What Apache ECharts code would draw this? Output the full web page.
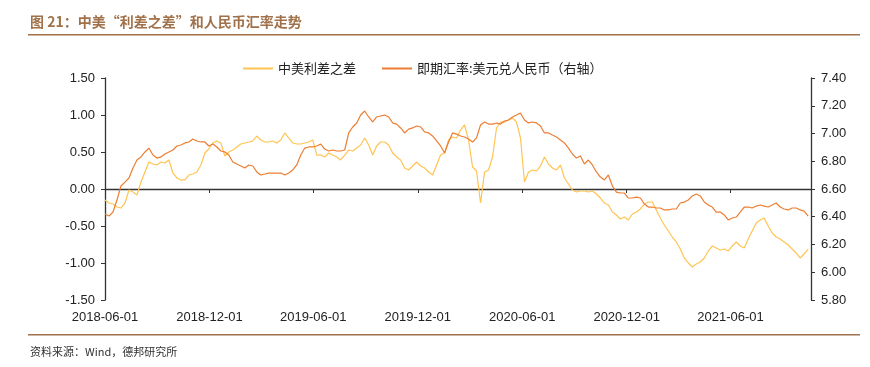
<!DOCTYPE html>
<html>
<head>
<meta charset="utf-8">
<script src="https://cdn.jsdelivr.net/npm/echarts@6/dist/echarts.min.js"></script>
<style>
  html, body { margin: 0; padding: 0; background: #fff; }
  #chart { width: 870px; height: 367px; }
</style>
</head>
<body>
<div id="chart"></div>
<script>
// weekly readings, first point 2018-06-01
const firstDay = [2018, 5, 1];
const stepDays = 7;

// 中美利差之差 (left axis)
const spreadDiff = [
  -0.149, -0.189, -0.203, -0.243, -0.257, -0.189, -0.014, -0.041, -0.081, 0.095,
  0.230, 0.365, 0.338, 0.324, 0.365, 0.351, 0.392, 0.216, 0.149, 0.122,
  0.122, 0.189, 0.203, 0.230, 0.324, 0.486, 0.541, 0.622, 0.649, 0.622,
  0.446, 0.500, 0.527, 0.568, 0.608, 0.622, 0.635, 0.649, 0.716, 0.662,
  0.635, 0.635, 0.649, 0.622, 0.662, 0.757, 0.689, 0.622, 0.608, 0.608,
  0.622, 0.635, 0.662, 0.459, 0.459, 0.432, 0.486, 0.459, 0.432, 0.392,
  0.459, 0.527, 0.514, 0.554, 0.595, 0.689, 0.595, 0.459, 0.581, 0.635,
  0.635, 0.595, 0.486, 0.432, 0.392, 0.284, 0.257, 0.311, 0.365, 0.311,
  0.284, 0.230, 0.189, 0.324, 0.459, 0.486, 0.662, 0.703, 0.689, 0.797,
  0.865, 0.662, 0.297, 0.243, -0.189, 0.230, 0.257, 0.432, 0.824, 0.905,
  0.905, 0.932, 0.959, 0.905, 0.689, 0.095, 0.230, 0.257, 0.243, 0.311,
  0.432, 0.338, 0.284, 0.257, 0.324, 0.149, 0.068, -0.014, -0.041, -0.027,
  -0.027, -0.041, -0.027, -0.068, -0.122, -0.189, -0.216, -0.311, -0.351, -0.405,
  -0.378, -0.419, -0.338, -0.311, -0.270, -0.203, -0.176, -0.176, -0.284, -0.392,
  -0.486, -0.568, -0.649, -0.716, -0.811, -0.932, -1.000, -1.054, -1.014, -0.986,
  -0.932, -0.838, -0.770, -0.797, -0.824, -0.811, -0.838, -0.770, -0.716, -0.770,
  -0.797, -0.676, -0.568, -0.459, -0.419, -0.392, -0.500, -0.595, -0.649, -0.676,
  -0.716, -0.757, -0.811, -0.865, -0.932, -0.878, -0.811
];

// 即期汇率:美元兑人民币 (right axis)
const usdCny = [
  6.420, 6.405, 6.434, 6.521, 6.622, 6.650, 6.679, 6.751, 6.809, 6.831,
  6.867, 6.895, 6.845, 6.823, 6.831, 6.852, 6.867, 6.881, 6.910, 6.917,
  6.932, 6.939, 6.960, 6.946, 6.939, 6.939, 6.910, 6.924, 6.903, 6.874,
  6.867, 6.845, 6.795, 6.780, 6.766, 6.751, 6.773, 6.766, 6.723, 6.701,
  6.708, 6.715, 6.715, 6.715, 6.715, 6.701, 6.715, 6.737, 6.773, 6.845,
  6.895, 6.903, 6.903, 6.910, 6.924, 6.888, 6.874, 6.881, 6.874, 6.874,
  6.881, 7.004, 7.047, 7.076, 7.133, 7.162, 7.119, 7.083, 7.119, 7.126,
  7.133, 7.119, 7.076, 7.068, 7.040, 7.004, 7.032, 7.040, 7.054, 7.047,
  7.011, 7.004, 6.982, 6.946, 6.910, 6.859, 6.939, 7.004, 6.996, 6.982,
  6.975, 6.960, 6.939, 6.968, 7.061, 7.083, 7.068, 7.068, 7.076, 7.068,
  7.090, 7.097, 7.119, 7.133, 7.148, 7.097, 7.076, 7.083, 7.076, 7.054,
  7.004, 7.004, 6.989, 6.975, 6.953, 6.932, 6.895, 6.852, 6.823, 6.838,
  6.780, 6.809, 6.773, 6.723, 6.686, 6.665, 6.701, 6.622, 6.578, 6.571,
  6.571, 6.535, 6.535, 6.542, 6.535, 6.492, 6.470, 6.470, 6.463, 6.463,
  6.449, 6.449, 6.456, 6.456, 6.499, 6.506, 6.521, 6.550, 6.564, 6.550,
  6.506, 6.485, 6.470, 6.434, 6.434, 6.413, 6.377, 6.391, 6.398, 6.434,
  6.470, 6.470, 6.463, 6.477, 6.485, 6.477, 6.470, 6.485, 6.499, 6.470,
  6.456, 6.449, 6.463, 6.463, 6.449, 6.441, 6.405
];

const tickDates = ['2018-06-01', '2018-12-01', '2019-06-01', '2019-12-01', '2020-06-01', '2020-12-01', '2021-06-01'];
const axisEnd = '2021-10-20';
const leftTicks = [-1.5, 1.5, 0.5];   // min, max, step
const rightTicks = [5.8, 7.4, 0.2];

const seriesNames = ['中美利差之差', '即期汇率:美元兑人民币（右轴）'];

function day(s) {
  const p = s.split('-');
  return new Date(+p[0], +p[1] - 1, +p[2]).getTime();
}

const dates = usdCny.map((v, i) => new Date(firstDay[0], firstDay[1], firstDay[2] + i * stepDays).getTime());
const tickTimes = tickDates.map(day);

const font = '"Liberation Sans", "Noto Sans CJK SC", sans-serif';
const brown = '#a0714a';

const chart = echarts.init(document.getElementById('chart'), null, { renderer: 'canvas' });

chart.setOption({
  animation: false,
  textStyle: { fontFamily: font },
  grid: { left: 105, right: 59, top: 78, bottom: 67 },
  legend: {
    left: 238,
    top: 57,
    icon: 'rect',
    itemWidth: 30,
    itemHeight: 2,
    itemGap: 26,
    textStyle: { fontSize: 13, color: '#222', fontFamily: '"Noto Sans CJK SC", sans-serif' },
    data: seriesNames
  },
  xAxis: [
    {
      // bottom labels only
      type: 'time',
      min: day(tickDates[0]),
      max: day(axisEnd),
      axisLine: { show: false, onZero: false },
      axisTick: { show: false },
      splitLine: { show: false },
      axisLabel: {
        customValues: tickTimes,
        formatter: '{yyyy}-{MM}-{dd}',
        fontSize: 13,
        color: '#222',
        margin: 11,
        showMinLabel: true
      }
    },
    {
      // line along zero with ticks
      type: 'time',
      position: 'bottom',
      min: day(tickDates[0]),
      max: day(axisEnd),
      axisLine: { show: true, onZero: true, onZeroAxisIndex: 0, lineStyle: { color: '#333', width: 1.3 } },
      axisTick: { show: true, customValues: tickTimes, length: 4, lineStyle: { color: '#333' } },
      axisLabel: { show: false },
      splitLine: { show: false }
    }
  ],
  yAxis: [
    {
      type: 'value',
      min: leftTicks[0],
      max: leftTicks[1],
      interval: leftTicks[2],
      axisLine: { show: true, lineStyle: { color: '#333', width: 1.3 } },
      axisTick: { show: true, length: 4, lineStyle: { color: '#333' } },
      splitLine: { show: false },
      axisLabel: { fontSize: 13, color: '#222', margin: 10, formatter: v => v.toFixed(2) }
    },
    {
      type: 'value',
      min: rightTicks[0],
      max: rightTicks[1],
      interval: rightTicks[2],
      position: 'right',
      axisLine: { show: true, lineStyle: { color: '#333', width: 1.3 } },
      axisTick: { show: true, length: 4, lineStyle: { color: '#333' } },
      splitLine: { show: false },
      axisLabel: { fontSize: 13, color: '#222', margin: 10, formatter: v => v.toFixed(2) }
    }
  ],
  series: [
    {
      name: seriesNames[0],
      type: 'line',
      xAxisIndex: 0,
      yAxisIndex: 0,
      symbol: 'none',
      lineStyle: { color: '#ffc452', width: 1.2 },
      itemStyle: { color: '#ffc452' },
      data: dates.map((d, i) => [d, spreadDiff[i]])
    },
    {
      name: seriesNames[1],
      type: 'line',
      xAxisIndex: 0,
      yAxisIndex: 1,
      symbol: 'none',
      lineStyle: { color: '#ed7d31', width: 1.2 },
      itemStyle: { color: '#ed7d31' },
      data: dates.map((d, i) => [d, usdCny[i]])
    }
  ],
  graphic: [
    {
      type: 'text', left: 30, top: 15,
      style: { text: '图 21：中美“利差之差”和人民币汇率走势', fill: brown, font: 'bold 14px "Noto Sans CJK SC", sans-serif' }
    },
    { type: 'rect', shape: { x: 28, y: 34, width: 832, height: 1.5 }, style: { fill: brown } },
    { type: 'rect', shape: { x: 28, y: 334, width: 832, height: 1.5 }, style: { fill: brown } },
    {
      type: 'text', left: 30, top: 346,
      style: { text: '资料来源：Wind，德邦研究所', fill: '#333', font: '11px "Noto Sans CJK SC", sans-serif' }
    }
  ]
});
</script>
</body>
</html>
